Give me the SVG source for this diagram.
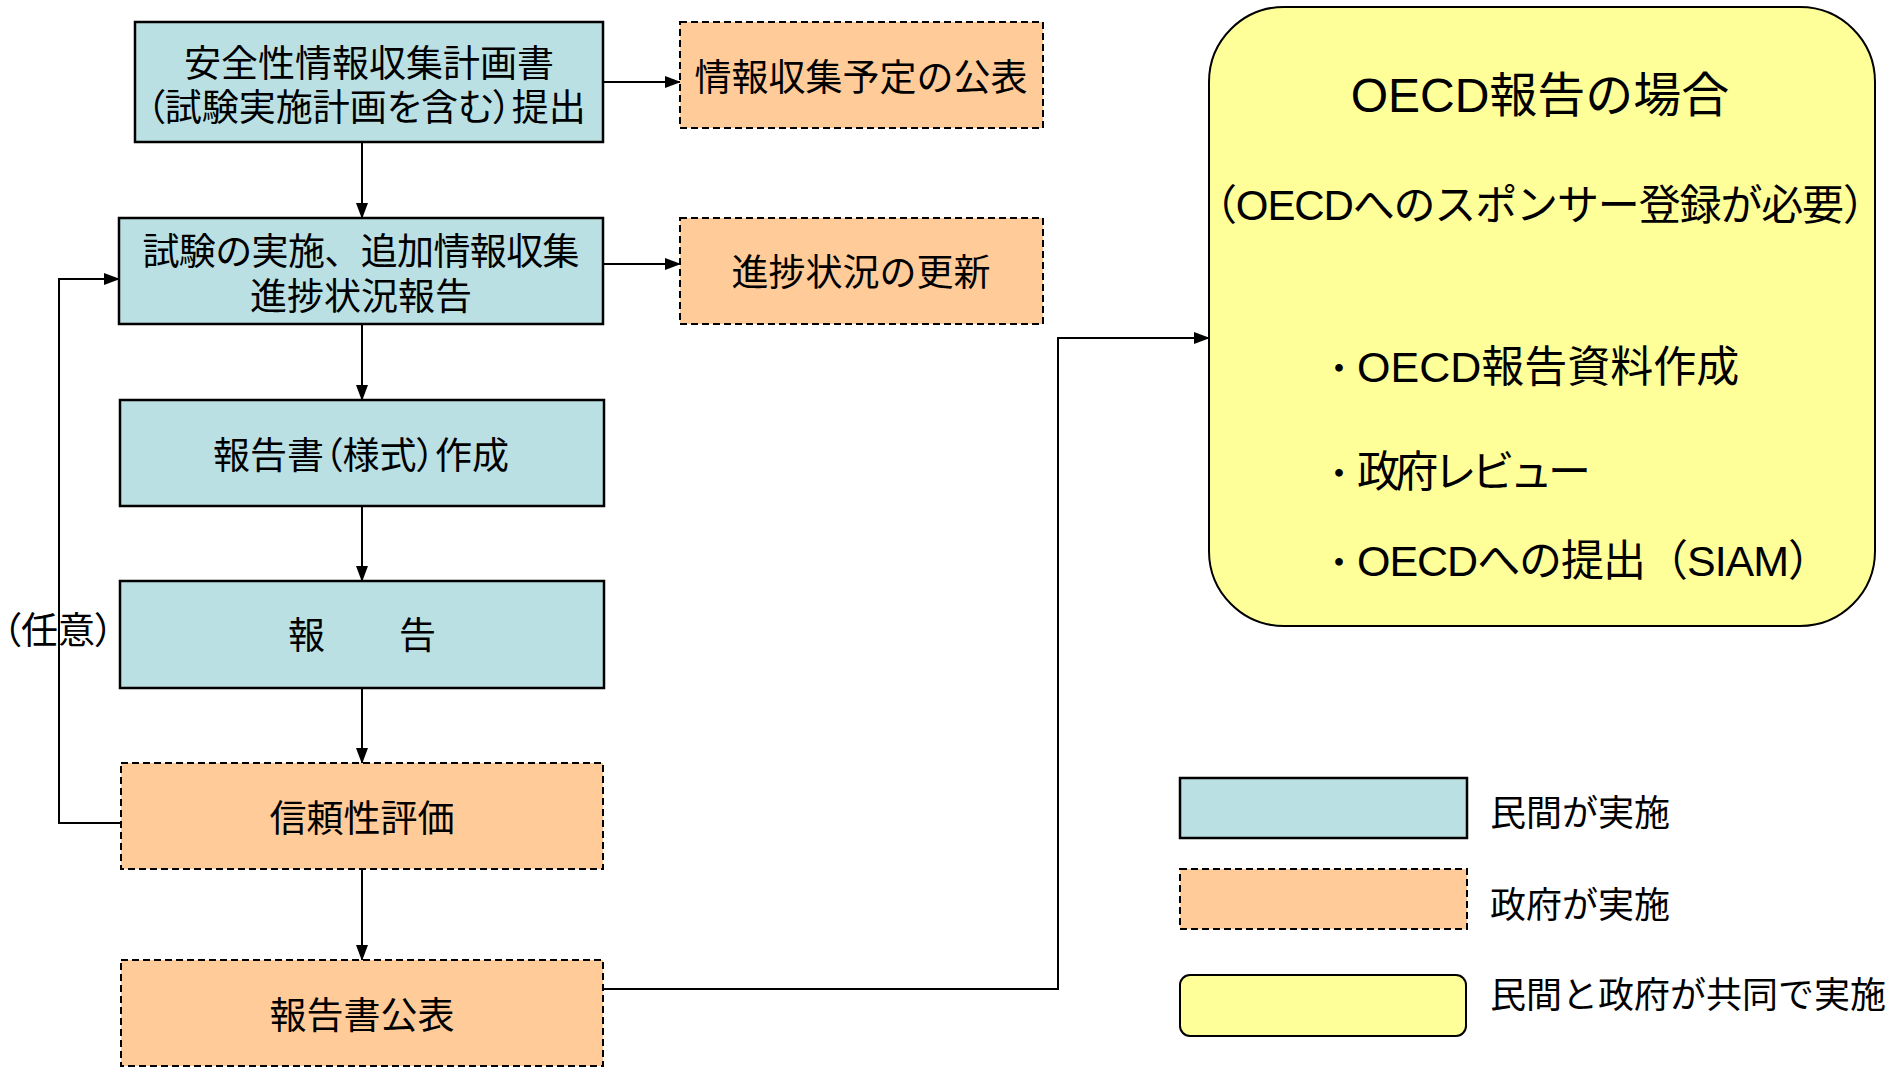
<svg xmlns="http://www.w3.org/2000/svg" width="1888" height="1072" viewBox="0 0 1888 1072">
<style>
text{font-family:"Liberation Sans","Noto Sans CJK JP",sans-serif;fill:#000;}
.t{font-size:37px;text-anchor:middle;}
.lg{font-size:36px;}
.b{font-size:36px;}
.bt{font-size:43px;}
.palt{font-feature-settings:"palt" 1;}
.priv{fill:#BBE0E3;stroke:#000;stroke-width:2.5;}
.gov{fill:#FFCC99;stroke:#000;stroke-width:2;stroke-dasharray:7 4;}
.joint{fill:#FFFF99;stroke:#000;stroke-width:2;}
.ca{fill:none;stroke:#000;stroke-width:2;marker-end:url(#ah);}
</style>
<defs>
<marker id="ah" markerUnits="userSpaceOnUse" markerWidth="16" markerHeight="12" refX="15" refY="6" orient="auto">
<path d="M0,0 L16,6 L0,12 Z" fill="#000"/>
</marker>
</defs>
<rect width="1888" height="1072" fill="#fff"/>
<g id="connectors">
<path class="ca" d="M603,82 H680"/>
<path class="ca" d="M362,142 V218"/>
<path class="ca" d="M603,264 H680"/>
<path class="ca" d="M362,324 V400"/>
<path class="ca" d="M362,506 V581"/>
<path class="ca" d="M362,688 V763"/>
<path class="ca" d="M362,869 V960"/>
<path class="ca" d="M121,823 H59 V279 H119"/>
<path class="ca" d="M603,989 H1058 V338 H1209"/>
</g>
<g id="n1"><rect class="priv" x="135" y="22" width="468" height="120"/>
<text class="t" x="369" y="77">安全性情報収集計画書</text>
<text class="t palt" x="366" y="121">（試験実施計画を含む）提出</text></g>
<g id="n2"><rect class="priv" x="119" y="218" width="484" height="106"/>
<text class="t" x="361" y="265" textLength="437" lengthAdjust="spacing">試験の実施、追加情報収集</text>
<text class="t" x="361" y="310">進捗状況報告</text></g>
<g id="nA"><rect class="gov" x="680" y="22" width="363" height="106"/>
<text class="t" x="861" y="91">情報収集予定の公表</text></g>
<g id="nB"><rect class="gov" x="680" y="218" width="363" height="106"/>
<text class="t" x="861" y="286">進捗状況の更新</text></g>
<g id="n3"><rect class="priv" x="120" y="400" width="484" height="106"/>
<text class="t palt" x="361" y="469">報告書（様式）作成</text></g>
<g id="n4"><rect class="priv" x="120" y="581" width="484" height="107"/>
<text class="t" x="362" y="649">報　　告</text></g>
<g id="n5"><rect class="gov" x="121" y="763" width="482" height="106"/>
<text class="t" x="362" y="832">信頼性評価</text></g>
<g id="n6"><rect class="gov" x="121" y="960" width="482" height="106"/>
<text class="t" x="362" y="1029">報告書公表</text></g>
<g id="optional"><text class="t palt" x="58" y="644">（任意）</text></g>
<g id="oecd"><rect class="joint" x="1209" y="7" width="666" height="619" rx="75" ry="75"/>
<text class="t" x="1540" y="112" style="font-size:48px">OECD報告の場合</text>
<text class="t" x="1540" y="220" style="font-size:42px" textLength="690" lengthAdjust="spacing">（OECDへのスポンサー登録が必要）</text>
<text class="b" x="1321" y="382">・<tspan class="bt" x="1357">OECD報告資料作成</tspan></text>
<text class="b" x="1321" y="487">・<tspan class="bt" x="1357" textLength="234" lengthAdjust="spacing">政府レビュー</tspan></text>
<text class="b" x="1321" y="576">・<tspan class="bt" x="1357" textLength="474" lengthAdjust="spacing">OECDへの提出（SIAM）</tspan></text></g>
<g id="legend">
<rect class="priv" x="1180" y="778" width="287" height="60"/>
<text class="lg" x="1490" y="826">民間が実施</text>
<rect class="gov" x="1180" y="869" width="287" height="60"/>
<text class="lg" x="1490" y="918">政府が実施</text>
<rect class="joint" x="1180" y="975" width="286" height="61" rx="10" ry="10"/>
<text class="lg" x="1490" y="1008">民間と政府が共同で実施</text>
</g>
</svg>
